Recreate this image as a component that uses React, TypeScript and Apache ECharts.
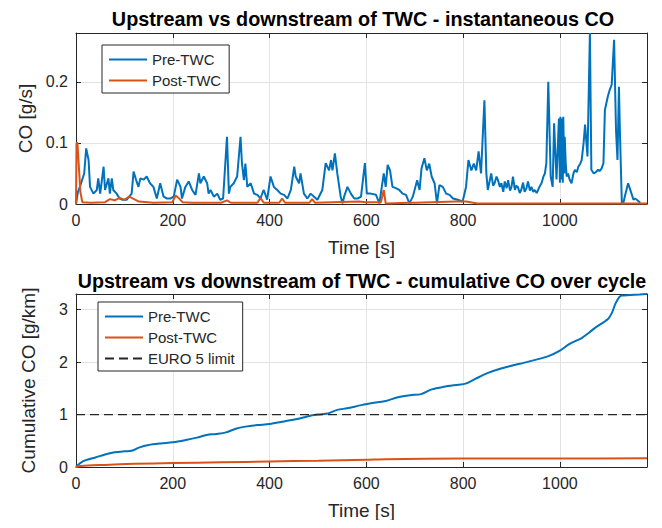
import React, { useEffect, useRef } from "react";
import * as echarts from "echarts";

// ---- Instantaneous CO [g/s] ----
const preTime = [
  0, 4, 8, 17, 21, 26, 29, 36, 43, 46, 50, 57, 60, 67, 70, 74, 77, 84, 90, 95, 105,
  115, 119, 124, 129, 133, 140, 146, 153, 160, 167, 174, 181, 188, 195, 202, 209, 216,
  219, 226, 233, 240, 247, 254, 257, 264, 271, 274, 278, 285, 292, 298, 304, 312, 316,
  319, 326, 333, 340, 343, 347, 350, 354, 361, 368, 375, 381, 388, 395, 402, 409, 416,
  423, 430, 437, 444, 451, 454, 461, 464, 471, 478, 485, 492, 499, 509, 516, 523, 527,
  530, 535, 540, 547, 551, 554, 561, 568, 575, 582, 589, 597, 601, 609, 620, 627, 636,
  640, 644, 649, 654, 661, 668, 675, 682, 689, 696, 705, 710, 714, 720, 725, 730, 735,
  741, 746, 751, 758, 765, 772, 779, 789, 799, 806, 811, 817, 822, 827, 832, 837, 844,
  848, 851, 858, 862, 865, 869, 872, 876, 879, 883, 886, 890, 893, 897, 900, 903, 907,
  910, 913, 917, 920, 924, 927, 931, 934, 938, 941, 945, 948, 952, 955, 959, 962, 966,
  969, 972, 976, 981, 985, 988, 993, 998, 1000, 1001, 1003, 1004, 1006, 1007, 1009,
  1010, 1012, 1014, 1017, 1020, 1024, 1028, 1031, 1035, 1038, 1042, 1045, 1049, 1052,
  1057, 1062, 1065, 1070, 1074, 1079, 1082, 1086, 1090, 1093, 1099, 1103, 1107, 1112,
  1116, 1119, 1122, 1124, 1128, 1131, 1134, 1141, 1148, 1152, 1155, 1159, 1166, 1172, 1180,
];
const preCO = [
  0.0, 0.02, 0.028, 0.05, 0.091, 0.072, 0.028, 0.017, 0.023, 0.042, 0.017, 0.061, 0.023,
  0.042, 0.017, 0.042, 0.023, 0.017, 0.009, 0.007, 0.007, 0.017, 0.053, 0.04, 0.028,
  0.042, 0.04, 0.045, 0.034, 0.028, 0.009, 0.034, 0.012, 0.009, 0.009, 0.012, 0.04,
  0.028, 0.009, 0.028, 0.037, 0.023, 0.015, 0.05, 0.034, 0.045, 0.034, 0.017, 0.023,
  0.012, 0.017, 0.007, 0.009, 0.11, 0.017, 0.028, 0.034, 0.045, 0.11, 0.066, 0.039,
  0.066, 0.028, 0.034, 0.017, 0.015, 0.009, 0.023, 0.007, 0.045, 0.028, 0.023, 0.017,
  0.015, 0.009, 0.023, 0.061, 0.045, 0.034, 0.05, 0.017, 0.009, 0.017, 0.012, 0.007,
  0.023, 0.067, 0.055, 0.072, 0.055, 0.083, 0.05, 0.012, 0.001, 0.012, 0.028, 0.017,
  0.009, 0.009, 0.012, 0.067, 0.017, 0.017, 0.015, 0.001, 0.05, 0.028, 0.064, 0.055,
  0.028, 0.026, 0.023, 0.017, 0.015, 0.001, 0.012, 0.039, 0.023, 0.058, 0.075, 0.055,
  0.066, 0.045, 0.034, 0.001, 0.031, 0.028, 0.017, 0.015, 0.009, 0.007, 0.004, 0.028,
  0.072, 0.055, 0.066, 0.055, 0.086, 0.05, 0.17, 0.05, 0.023, 0.05, 0.03, 0.034, 0.045,
  0.039, 0.028, 0.034, 0.02, 0.037, 0.026, 0.039, 0.022, 0.028, 0.045, 0.023, 0.03,
  0.028, 0.018, 0.023, 0.035, 0.02, 0.026, 0.037, 0.022, 0.028, 0.02, 0.023, 0.018,
  0.023, 0.03, 0.034, 0.045, 0.05, 0.067, 0.2, 0.045, 0.028, 0.132, 0.04, 0.14, 0.035,
  0.143, 0.04, 0.14, 0.035, 0.143, 0.05, 0.11, 0.067, 0.045, 0.05, 0.04, 0.034, 0.05,
  0.056, 0.052, 0.061, 0.066, 0.072, 0.1, 0.13, 0.078, 0.28, 0.056, 0.05, 0.052, 0.056,
  0.054, 0.058, 0.067, 0.154, 0.176, 0.187, 0.195, 0.269, 0.12, 0.072, 0.192, 0.12,
  0.001, 0.001, 0.012, 0.034, 0.017, 0.007, 0.009, 0.007, 0.002,
];

const postTime = [
  0, 1, 3, 6, 9, 13, 30, 60, 70, 80, 90, 100, 110, 120, 130, 160, 199, 206, 212, 220,
  240, 300, 312, 320, 375, 381, 388, 420, 426, 432, 482, 488, 494, 585, 598, 630, 636,
  640, 688, 700, 785, 806, 830, 1180,
];
const postCO = [
  0.0, 0.1, 0.1, 0.06, 0.02, 0.003, 0.002, 0.003, 0.008, 0.006, 0.01, 0.007, 0.012, 0.008,
  0.004, 0.002, 0.003, 0.014, 0.01, 0.003, 0.002, 0.002, 0.006, 0.002, 0.002, 0.01, 0.002,
  0.002, 0.009, 0.002, 0.002, 0.008, 0.002, 0.004, 0.003, 0.003, 0.023, 0.001, 0.002,
  0.002, 0.004, 0.004, 0.001, 0.001,
];

// ---- Cumulative CO [g/km] ----
const cumPreTime = [
  0, 8, 20, 40, 60, 80, 100, 115, 130, 150, 175, 200, 225, 250, 270, 290, 310, 330, 350,
  375, 400, 430, 460, 480, 500, 520, 540, 560, 590, 620, 640, 665, 690, 713, 735, 760,
  790, 805, 825, 850, 875, 900, 935, 975, 1000, 1020, 1045, 1060, 1072, 1100, 1108, 1115,
  1127, 1145, 1165, 1180,
];
const cumPreCO = [
  0, 0.07, 0.13, 0.18, 0.24, 0.28, 0.3, 0.31, 0.37, 0.42, 0.45, 0.47, 0.51, 0.56, 0.61,
  0.63, 0.66, 0.73, 0.77, 0.8, 0.82, 0.87, 0.92, 0.97, 1.0, 1.02, 1.09, 1.12, 1.18, 1.23,
  1.26, 1.33, 1.37, 1.39, 1.48, 1.53, 1.57, 1.59, 1.68, 1.79, 1.87, 1.93, 2.01, 2.11,
  2.22, 2.35, 2.46, 2.56, 2.65, 2.83, 2.95, 3.12, 3.27, 3.28, 3.29, 3.3,
];
const cumPostTime = [0, 10, 60, 120, 200, 300, 400, 500, 600, 640, 800, 1000, 1180];
const cumPostCO = [0, 0.02, 0.04, 0.06, 0.075, 0.09, 0.105, 0.12, 0.14, 0.15, 0.16, 0.163, 0.165];

const euroLimit = 1.0;
const timeRange = [0, 1180];

const seriesNames = ["Pre-TWC", "Post-TWC", "EURO 5 limit"];
const titles = [
  "Upstream vs downstream of TWC - instantaneous CO",
  "Upstream vs downstream of TWC - cumulative CO over cycle",
];
const xName = "Time [s]";
const yNames = ["CO [g/s]", "Cumulative CO [g/km]"];

const BLUE = "#0072BD";
const ORANGE = "#D95319";
const AXIS = "#262626";
const GRID = "#e3e3e3";
const FONT = "Liberation Sans, Arial, Helvetica, sans-serif";

const zip = (xs: number[], ys: number[]) => xs.map((x, i) => [x, ys[i]]);
const plain = (v: number) => String(+v.toFixed(4));

function mainX(gridIndex: number) {
  return {
    type: "value",
    gridIndex,
    min: timeRange[0],
    max: timeRange[1],
    interval: 200,
    name: xName,
    nameLocation: "middle",
    nameGap: 34,
    nameTextStyle: { fontSize: 19, color: AXIS, fontFamily: FONT },
    axisLine: { show: true, lineStyle: { color: AXIS, width: 1 } },
    axisTick: { show: true, inside: true, length: 5, lineStyle: { color: AXIS } },
    axisLabel: {
      fontSize: 16,
      color: AXIS,
      fontFamily: FONT,
      margin: 8,
      showMaxLabel: false,
      formatter: plain,
    },
    splitLine: { show: true, lineStyle: { color: GRID, width: 1 } },
  };
}
function sideX(gridIndex: number) {
  return {
    type: "value",
    gridIndex,
    position: "top",
    min: timeRange[0],
    max: timeRange[1],
    interval: 200,
    axisLine: { show: true, onZero: false, lineStyle: { color: AXIS, width: 1 } },
    axisTick: { show: true, inside: true, length: 5, lineStyle: { color: AXIS } },
    axisLabel: { show: false },
    splitLine: { show: false },
  };
}
function mainY(gridIndex: number, max: number, interval: number, name: string, nameGap: number) {
  return {
    type: "value",
    gridIndex,
    min: 0,
    max,
    interval,
    name,
    nameLocation: "middle",
    nameGap,
    nameTextStyle: { fontSize: 19, color: AXIS, fontFamily: FONT },
    axisLine: { show: true, lineStyle: { color: AXIS, width: 1 } },
    axisTick: { show: true, inside: true, length: 5, lineStyle: { color: AXIS } },
    axisLabel: {
      fontSize: 16,
      color: AXIS,
      fontFamily: FONT,
      margin: 8,
      showMaxLabel: false,
      formatter: plain,
    },
    splitLine: { show: true, lineStyle: { color: GRID, width: 1 } },
  };
}
function sideY(gridIndex: number, max: number, interval: number) {
  return {
    type: "value",
    gridIndex,
    position: "right",
    min: 0,
    max,
    interval,
    axisLine: { show: true, onZero: false, lineStyle: { color: AXIS, width: 1 } },
    axisTick: { show: true, inside: true, length: 5, lineStyle: { color: AXIS } },
    axisLabel: { show: false },
    splitLine: { show: false },
  };
}

function lineSeries(name: string, color: string, x: number, y: number, data: number[][], extra: any = {}) {
  return {
    name,
    type: "line",
    xAxisIndex: x,
    yAxisIndex: y,
    data,
    showSymbol: false,
    symbol: "none",
    lineStyle: { color, width: 2 },
    itemStyle: { color },
    ...extra,
  };
}

function legendBox(left: number, top: number, names: string[]) {
  return {
    orient: "vertical",
    left,
    top,
    data: names,
    selectedMode: false,
    itemWidth: 38,
    itemHeight: 14,
    itemGap: 6,
    padding: [7, 8, 5, 6],
    borderColor: AXIS,
    borderWidth: 1,
    backgroundColor: "#ffffff",
    // only the line sample is drawn, without a marker in its middle
    itemStyle: { opacity: 0 },
    textStyle: { fontSize: 15, color: AXIS, fontFamily: FONT },
  };
}

export default function App() {
  const ref = useRef<HTMLDivElement>(null);

  useEffect(() => {
    if (!ref.current) return;
    const chart = echarts.init(ref.current, null, { renderer: "svg" });
    const titleStyle = { fontSize: 19.8, fontWeight: "bold", color: "#000", fontFamily: FONT };
    chart.setOption({
      animation: false,
      backgroundColor: "#ffffff",
      title: [
        { text: titles[0], left: 358, textAlign: "center", top: 4, textStyle: titleStyle },
        {
          text: titles[1],
          left: 357,
          textAlign: "center",
          top: 266,
          textStyle: { ...titleStyle, fontSize: 19.6 },
        },
      ],
      grid: [
        { left: 76, right: 15, top: 33, height: 171 },
        { left: 76, right: 15, top: 294, height: 173 },
      ],
      xAxis: [mainX(0), sideX(0), mainX(1), sideX(1)],
      yAxis: [
        mainY(0, 0.28, 0.1, yNames[0], 22),
        sideY(0, 0.28, 0.1),
        mainY(1, 3.3, 1, yNames[1], 38),
        sideY(1, 3.3, 1),
      ],
      legend: [
        legendBox(102, 45, [seriesNames[0], seriesNames[1]]),
        legendBox(98, 302, seriesNames),
      ],
      series: [
        lineSeries(seriesNames[0], BLUE, 0, 0, zip(preTime, preCO)),
        lineSeries(seriesNames[1], ORANGE, 0, 0, zip(postTime, postCO)),
        lineSeries(seriesNames[0], BLUE, 2, 2, zip(cumPreTime, cumPreCO), { smooth: 0.3 }),
        lineSeries(seriesNames[1], ORANGE, 2, 2, zip(cumPostTime, cumPostCO), { smooth: 0.3 }),
        lineSeries(
          seriesNames[2],
          AXIS,
          2,
          2,
          zip(timeRange, [euroLimit, euroLimit]),
          { lineStyle: { color: AXIS, width: 1.2, type: [9, 5] } }
        ),
      ],
    });
    return () => chart.dispose();
  }, []);

  return <div ref={ref} style={{ width: 662, height: 528, margin: -8 }} />;
}
